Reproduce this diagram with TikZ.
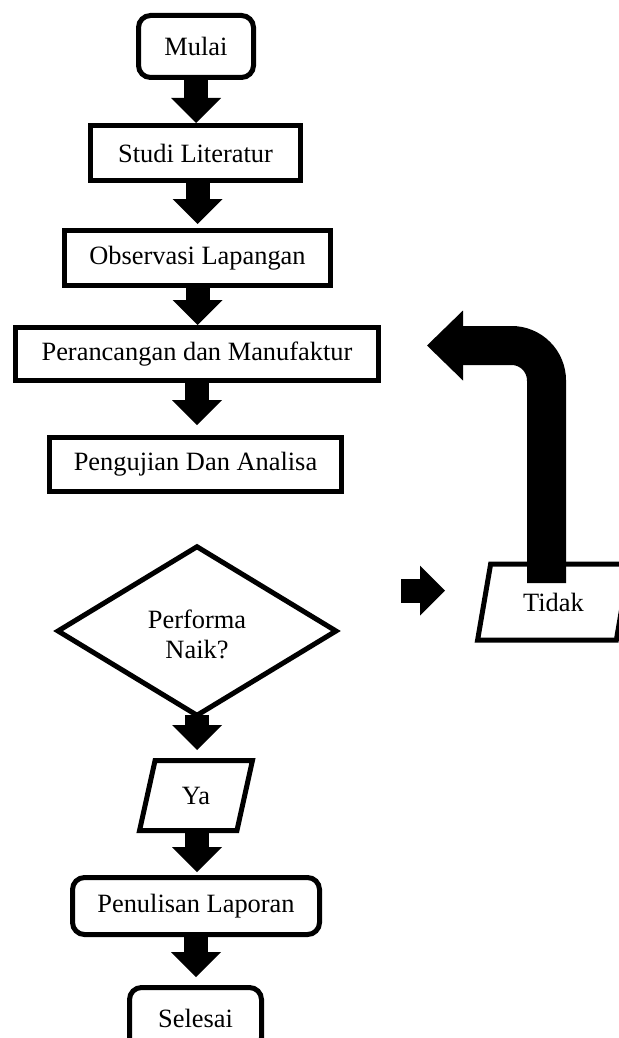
\documentclass[tikz,border=0pt]{standalone}
\usepackage{fontspec}
\setmainfont{Liberation Serif}
\usetikzlibrary{shapes.geometric,arrows.meta}
\tikzset{
  proc/.style={draw,line width=2.5pt,fill=white,align=center,inner sep=2pt,font=\fontsize{13.2}{15}\selectfont},
  term/.style={proc,rounded corners=6pt},
  decide/.style={proc,shape=diamond,minimum width=140pt,minimum height=82pt},
  io/.style={proc,shape=trapezium,trapezium left angle=75,trapezium right angle=105,trapezium stretches=true},
  flow/.style={line width=12pt,-{Triangle[width=25pt,length=12.5pt,line width=0pt]}},
  backflow/.style={line width=19.5pt,rounded corners=17.5pt,-{Triangle[width=35pt,length=18pt,line width=0pt]}}
}
\begin{document}
\begin{tikzpicture}[x=0.5pt,y=-0.5pt]
\useasboundingbox (0,0) rectangle (619,1038);
\clip (0,0) rectangle (619,1038);
\node[term,minimum width=57.5pt,minimum height=31pt] (mulai) at (196,46.5) {Mulai};
\node[proc,minimum width=105pt,minimum height=27.5pt] (studi) at (195.5,153) {Studi Literatur};
\node[proc,minimum width=133pt,minimum height=27.5pt] (obs) at (197.5,258) {Observasi Lapangan};
\node[proc,minimum width=181.5pt,minimum height=26.5pt] (rancang) at (197,354) {Perancangan dan Manufaktur};
\node[proc,minimum width=146pt,minimum height=27pt] (uji) at (195.5,464.5) {Pengujian Dan Analisa};
\node[decide] (naik) at (197,631) {\rule{0pt}{13pt}Performa\\Naik?};
\node[io,minimum width=56.5pt,minimum height=35pt] (ya) at (196,795.5) {Ya};
\node[io,minimum width=76pt,minimum height=38pt] (tidak) at (553.5,602) {Tidak};
\node[term,minimum width=123.5pt,minimum height=28.5pt] (tulis) at (196,906) {Penulisan Laporan};
\node[term,minimum width=66pt,minimum height=31pt] (selesai) at (195.5,1018.5) {Selesai};

\draw[flow] (mulai.south) -- (mulai.south |- studi.north);
\draw[flow,shorten >=2pt] (studi.south -| obs.north) -- (obs.north);
\draw[flow] (obs.south) -- (obs.south |- rancang.north);
\draw[flow,shorten >=5pt] (rancang.south) -- (rancang.south |- uji.north);
\draw[flow,shorten <=-2pt,shorten >=4pt] (naik.south) -- (naik.south |- ya.north);
\draw[flow,shorten >=1.5pt] (ya.south -| naik.south) -- (naik.south |- tulis.north);
\draw[flow,shorten >=4pt] (tulis.south) -- (tulis.south |- selesai.north);

\coordinate (nofrom) at (401,590.5);
\coordinate (noto) at (445,590.5);
\draw[flow] (nofrom) -- (noto);
\coordinate (backfrom) at (546.5,583);
\coordinate (backto) at (427,345.5);
\draw[backflow] (backfrom) |- (backto);
\end{tikzpicture}
\end{document}
